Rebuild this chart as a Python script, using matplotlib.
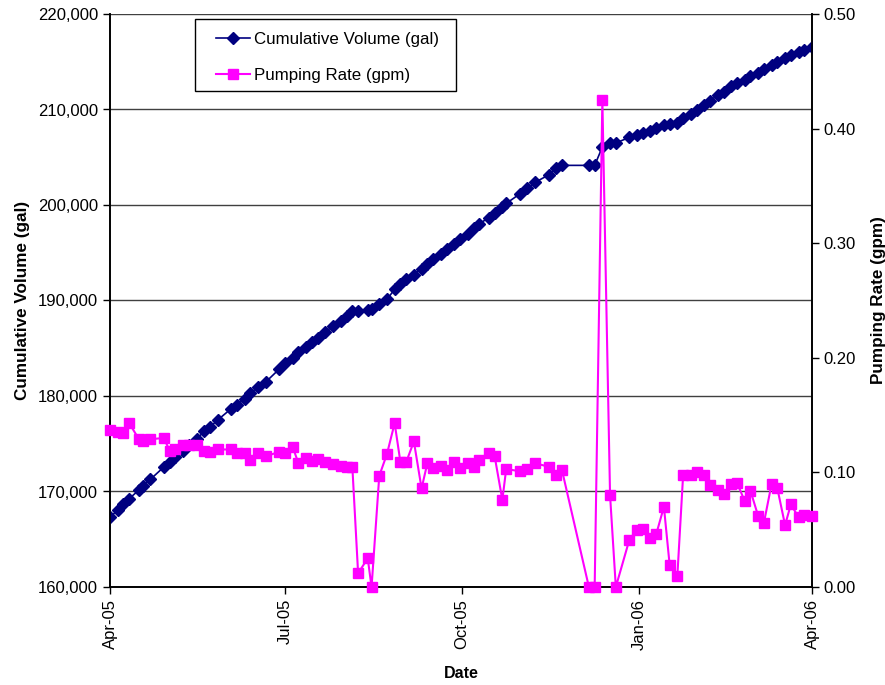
import matplotlib
matplotlib.use("Agg")
import matplotlib.pyplot as plt
import matplotlib.dates as mdates
from matplotlib.patches import Rectangle
from matplotlib.ticker import FuncFormatter, FixedLocator
import pandas as pd

plt.rcParams['font.family'] = ['Liberation Sans', 'DejaVu Sans']

# Measurement dates
dates = pd.to_datetime([
    "2005-04-01", "2005-04-05", "2005-04-08", "2005-04-11", "2005-04-16", "2005-04-18",
    "2005-04-22", "2005-04-29", "2005-05-02", "2005-05-05", "2005-05-09", "2005-05-12",
    "2005-05-16", "2005-05-20", "2005-05-23", "2005-05-27", "2005-06-03", "2005-06-06",
    "2005-06-10", "2005-06-13", "2005-06-17", "2005-06-21", "2005-06-28", "2005-07-01",
    "2005-07-05", "2005-07-08", "2005-07-12", "2005-07-15", "2005-07-18", "2005-07-22",
    "2005-07-26", "2005-07-30", "2005-08-02", "2005-08-05", "2005-08-08", "2005-08-13",
    "2005-08-15", "2005-08-19", "2005-08-23", "2005-08-27", "2005-08-30", "2005-09-02",
    "2005-09-06", "2005-09-10", "2005-09-13", "2005-09-16", "2005-09-20", "2005-09-23",
    "2005-09-27", "2005-09-30", "2005-10-04", "2005-10-07", "2005-10-10", "2005-10-15",
    "2005-10-18", "2005-10-22", "2005-10-24", "2005-10-31", "2005-11-04", "2005-11-08",
    "2005-11-15", "2005-11-19", "2005-11-22", "2005-12-06", "2005-12-09", "2005-12-13",
    "2005-12-17", "2005-12-20", "2005-12-27", "2005-12-31", "2006-01-03", "2006-01-07",
    "2006-01-10", "2006-01-14", "2006-01-17", "2006-01-21", "2006-01-24", "2006-01-28",
    "2006-01-31", "2006-02-04", "2006-02-07", "2006-02-11", "2006-02-14", "2006-02-18",
    "2006-02-21", "2006-02-25", "2006-02-28", "2006-03-04", "2006-03-07", "2006-03-11",
    "2006-03-14", "2006-03-18", "2006-03-21", "2006-03-25", "2006-03-28", "2006-04-01",
])

# Cumulative volume (gal)
cumulative_volume = [
    167330, 168030, 168740, 169250, 170150, 170610, 171270, 172570, 173110, 173650,
    174290, 174850, 175490, 176300, 176750, 177490, 178670, 179100, 179690, 180280,
    180950, 181470, 182820, 183490, 184030, 184590, 185150, 185620, 186100, 186740,
    187300, 187850, 188420, 188900, 188950, 189050, 189100, 189600, 190110, 191180,
    191700, 192250, 192720, 193350, 193820, 194370, 194840, 195390, 195940, 196490,
    196970, 197550, 198030, 198680, 199150, 199770, 200160, 201150, 201730, 202370,
    203140, 203850, 204150, 204150, 204150, 206070, 206490, 206490, 207080, 207330,
    207490, 207750, 208040, 208390, 208470, 208590, 209110, 209580, 209980, 210510,
    210930, 211500, 211850, 212410, 212730, 213110, 213500, 213870, 214210, 214650,
    214980, 215380, 215660, 216000, 216250, 216540,
]

# Pumping rate (gpm)
pumping_rate = [
    0.137, 0.135, 0.134, 0.143, 0.129, 0.127, 0.129, 0.130, 0.119, 0.120,
    0.124, 0.124, 0.124, 0.119, 0.118, 0.120, 0.120, 0.117, 0.117, 0.111,
    0.117, 0.114, 0.118, 0.117, 0.122, 0.108, 0.113, 0.110, 0.112, 0.109,
    0.107, 0.106, 0.105, 0.105, 0.012, 0.025, 0.000, 0.097, 0.116, 0.143,
    0.109, 0.109, 0.127, 0.086, 0.108, 0.104, 0.106, 0.102, 0.109, 0.104,
    0.108, 0.105, 0.111, 0.117, 0.114, 0.076, 0.103, 0.101, 0.103, 0.108,
    0.105, 0.098, 0.102, 0.000, 0.000, 0.425, 0.080, 0.000, 0.041, 0.050,
    0.051, 0.043, 0.046, 0.070, 0.019, 0.010, 0.098, 0.098, 0.100, 0.098,
    0.089, 0.085, 0.081, 0.090, 0.091, 0.075, 0.084, 0.062, 0.056, 0.090,
    0.086, 0.054, 0.072, 0.061, 0.063, 0.062,
]

x_ticks = pd.to_datetime(["2005-04-01", "2005-07-01", "2005-10-01", "2006-01-01", "2006-04-01"])
vol_ticks = [160000, 170000, 180000, 190000, 200000, 210000, 220000]
rate_ticks = [0.0, 0.1, 0.2, 0.3, 0.4, 0.5]

W, H = 885, 685
fig = plt.figure(figsize=(W / 100, H / 100), dpi=100)
ax = fig.add_axes([110 / W, 1 - 587 / H, 702 / W, 573 / H])
ax2 = ax.twinx()

navy = "#000080"
magenta = "#FF00FF"

l1, = ax.plot(dates, cumulative_volume, color=navy, lw=1.2, marker="D",
              markersize=6.5, markeredgecolor=navy, markerfacecolor=navy,
              label="Cumulative Volume (gal)", zorder=3)
l2, = ax2.plot(dates, pumping_rate, color=magenta, lw=1.5, marker="s",
               markersize=7, markeredgecolor=magenta, markerfacecolor=magenta,
               label="Pumping Rate (gpm)", zorder=3, clip_on=False)

ax.set_xlim(x_ticks[0], x_ticks[-1])
ax.set_ylim(vol_ticks[0], vol_ticks[-1])
ax2.set_ylim(rate_ticks[0], rate_ticks[-1])

ax.set_yticks(vol_ticks)
ax.yaxis.set_major_formatter(FuncFormatter(lambda v, p: f"{int(v):,}"))
ax2.set_yticks(rate_ticks)
ax2.yaxis.set_major_formatter(FuncFormatter(lambda v, p: f"{v:.2f}"))

ax.xaxis.set_major_locator(FixedLocator(mdates.date2num(x_ticks)))
ax.xaxis.set_major_formatter(mdates.DateFormatter("%b-%y"))
for lab in ax.get_xticklabels():
    lab.set_rotation(90)

ax.grid(axis="y", color="#404040", lw=1.0)
ax.set_axisbelow(True)

for a in (ax, ax2):
    for s in a.spines.values():
        s.set_color("black")
        s.set_linewidth(1.2)
    a.tick_params(direction="out", length=5, width=1, labelsize=12, colors="black")
ax2.spines["top"].set_visible(False)
ax.spines["top"].set_visible(False)

ax.set_xlabel("Date", fontsize=11.5, fontweight="bold", labelpad=12)
ax.set_ylabel("Cumulative Volume (gal)", fontsize=12.3, fontweight="bold", labelpad=6)
ax2.set_ylabel("Pumping Rate (gpm)", fontsize=12.3, fontweight="bold", labelpad=10.5)

# Legend entries without frame, boxed by a plain rectangle
leg = fig.legend(handles=[l1, l2], loc="upper left",
                 bbox_to_anchor=(216 / W, 1 - 32 / H), frameon=False,
                 fontsize=12.2, labelspacing=1.22, handlelength=2.0,
                 borderpad=0, handletextpad=0.25, borderaxespad=0)
fig.patches.append(Rectangle((195 / W, 1 - 91 / H), (456 - 195) / W, (91 - 19) / H,
                             transform=fig.transFigure, facecolor="white",
                             edgecolor="black", lw=1.0, zorder=4))
leg.set_zorder(5)

fig.savefig("out.png", dpi=100)
